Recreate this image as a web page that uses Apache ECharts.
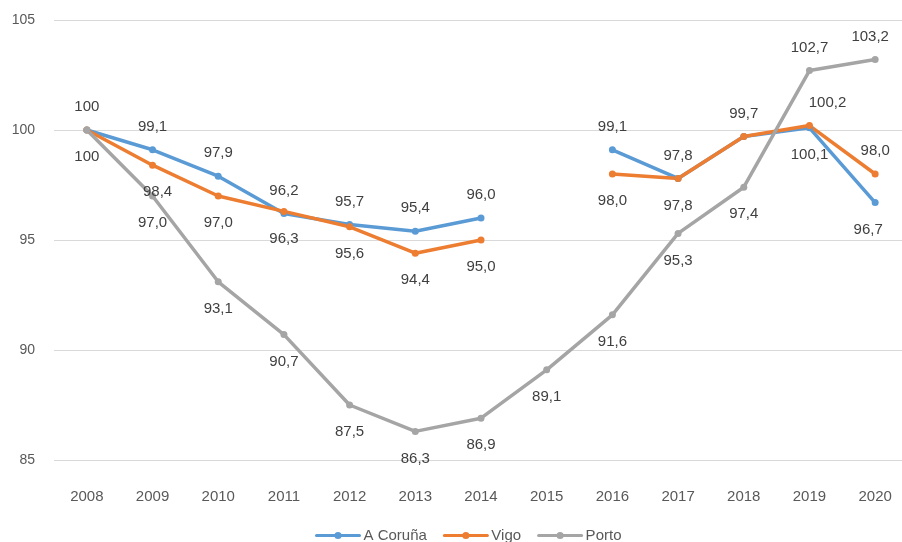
<!DOCTYPE html>
<html>
<head>
<meta charset="utf-8">
<script src="https://cdn.jsdelivr.net/npm/echarts@6/dist/echarts.min.js"></script>
<style>
  html, body { margin: 0; padding: 0; background: #ffffff; overflow: hidden; width: 902px; height: 542px; }
  #chart { width: 910px; height: 542px; }
</style>
</head>
<body>
<div id="chart"></div>
<script>
// Categories and values
const years = ['2008', '2009', '2010', '2011', '2012', '2013', '2014', '2015', '2016', '2017', '2018', '2019', '2020'];
const coruna = [100, 99.1, 97.9, 96.2, 95.7, 95.4, 96.0, null, 99.1, 97.8, 99.7, 100.1, 96.7];
const vigo   = [100, 98.4, 97.0, 96.3, 95.6, 94.4, 95.0, null, 98.0, 97.8, 99.7, 100.2, 98.0];
const porto  = [100, 97.0, 93.1, 90.7, 87.5, 86.3, 86.9, 89.1, 91.6, 95.3, 97.4, 102.7, 103.2];
const yTicks = [85, 90, 95, 100, 105];

// Where each value label sits: 't' above, 'b' below, '' hidden
const placeCoruna = ['t', 't', 't', 't', 't', 't', 't', '', 't', 't', 't', 'b', 'b'];
const placeVigo   = ['b', 'b', 'b', 'b', 'b', 'b', 'b', '', 'b', 'b', '', 't', 't'];
const placePorto  = ['', 'b', 'b', 'b', 'b', 'b', 'b', 'b', 'b', 'b', 'b', 't', 't'];
// Small horizontal nudges for a few labels
const nudgeCoruna = [0, 0, 0, 0, 0, 0, 0, 0, 0, 0, 0, 0, -7];
const nudgeVigo   = [0, 5, 0, 0, 0, 0, 0, 0, 0, 0, 0, 18, 0];
const nudgePorto  = [0, 0, 0, 0, 0, 0, 0, 0, 0, 0, 0, 0, -5];

const FONT = 'Liberation Sans, Arial, sans-serif';
const fmt = v => (v === 100 && Number.isInteger(v)) ? '100' : v.toFixed(1).replace('.', ',');

function buildData(values, place, nudge) {
  return values.map((v, i) => {
    if (v === null) return null;
    const p = place[i];
    return {
      value: v,
      label: p === ''
        ? { show: false }
        : {
            show: true,
            position: p === 't' ? 'top' : 'bottom',
            distance: p === 't' ? 12 : 16,
            offset: [nudge[i], 0]
          }
    };
  });
}

const labelStyle = {
  show: true,
  color: '#404040',
  fontSize: 15,
  fontFamily: FONT,
  formatter: p => fmt(p.value)
};

function lineSeries(name, color, values, place, nudge) {
  return {
    name: name,
    type: 'line',
    data: buildData(values, place, nudge),
    connectNulls: false,
    symbol: 'circle',
    symbolSize: 7,
    lineStyle: { width: 3.5, color: color, join: 'round', cap: 'round' },
    itemStyle: { color: color },
    label: labelStyle,
    emphasis: { disabled: true },
    animation: false
  };
}

const chart = echarts.init(document.getElementById('chart'), null, { renderer: 'canvas' });
chart.setOption({
  backgroundColor: '#ffffff',
  animation: false,
  grid: { left: 54, top: 20, width: 854, height: 440, containLabel: false },
  legend: {
    left: 310,
    top: 523,
    itemWidth: 43,
    itemHeight: 9,
    itemGap: 16,
    lineStyle: { width: 3 },
    textStyle: { color: '#595959', fontSize: 15, fontFamily: FONT, padding: [0, 0, 0, -1] },
    data: ['A Coruña', 'Vigo', 'Porto']
  },
  xAxis: {
    type: 'category',
    data: years,
    boundaryGap: true,
    axisLine: { show: false },
    axisTick: { show: false },
    axisLabel: { color: '#595959', fontSize: 15, margin: 29, fontFamily: FONT }
  },
  yAxis: {
    type: 'value',
    min: yTicks[0],
    max: yTicks[yTicks.length - 1],
    interval: 5,
    axisLine: { show: false },
    axisTick: { show: false },
    splitLine: { lineStyle: { color: '#d9d9d9', width: 1 } },
    axisLabel: { color: '#595959', fontSize: 14, margin: 19, fontFamily: FONT }
  },
  series: [
    lineSeries('A Coruña', '#5B9BD5', coruna, placeCoruna, nudgeCoruna),
    lineSeries('Vigo', '#ED7D31', vigo, placeVigo, nudgeVigo),
    lineSeries('Porto', '#A5A5A5', porto, placePorto, nudgePorto)
  ]
});
</script>
</body>
</html>
